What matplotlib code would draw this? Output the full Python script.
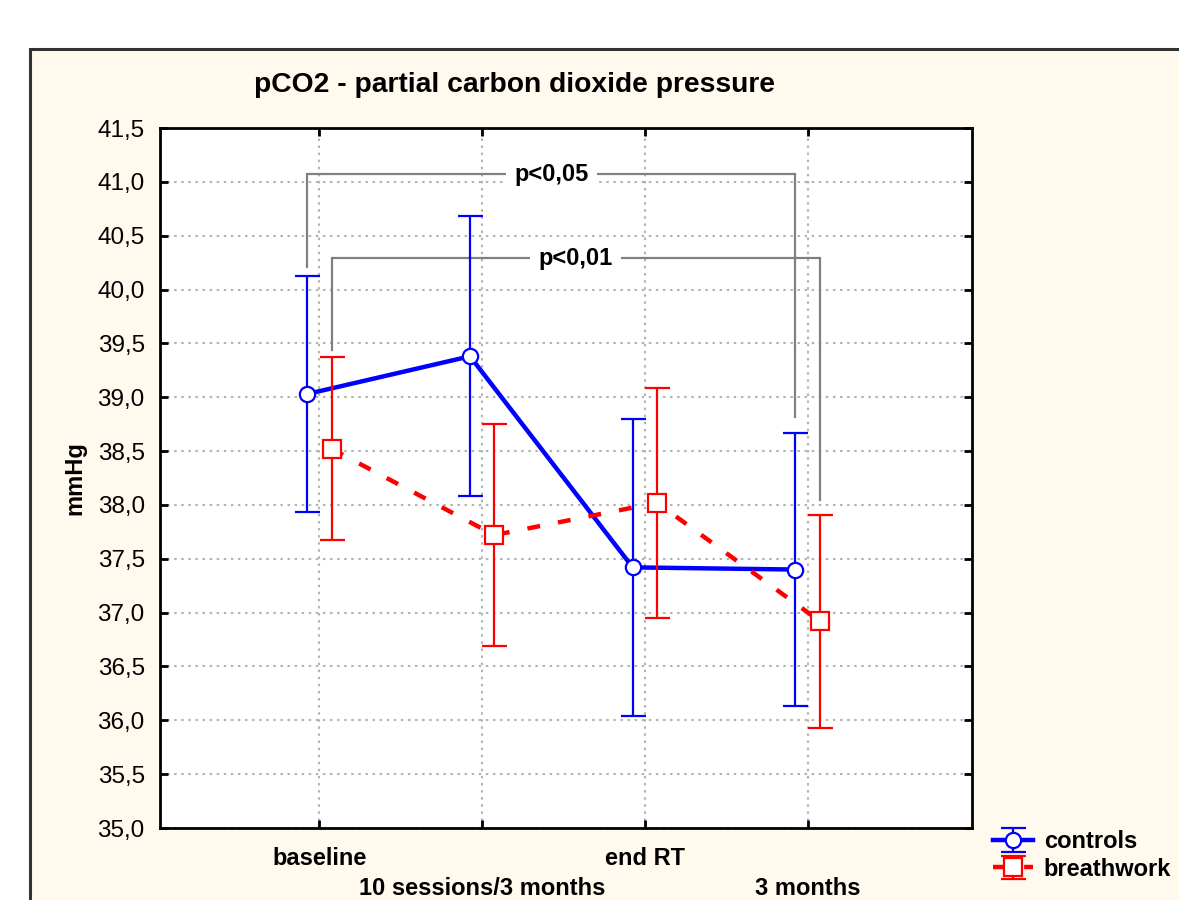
import matplotlib
matplotlib.use("Agg")
import matplotlib.pyplot as plt
from matplotlib.patches import Rectangle

# Group means and error-bar half widths (mmHg) at each time point
timepoints = ["baseline", "10 sessions/3 months", "end RT", "3 months"]
controls_mean = [39.03, 39.38, 37.42, 37.40]
controls_err = [1.10, 1.30, 1.38, 1.27]
breath_mean = [38.52, 37.72, 38.02, 36.92]
breath_err = [0.85, 1.03, 1.07, 0.99]

# Significance brackets: label, left index, left drop, right index, right drop, bar level, group
brackets = [
    ("p<0,05", 0, 40.21, 3, 38.82, 41.07, "controls"),
    ("p<0,01", 0, 39.44, 3, 38.05, 40.29, "breath"),
]

C_BLUE = "#0000FF"
C_RED = "#FF0000"
C_GRID = "#B4B4B4"
C_BRACKET = "#808080"
C_PANEL = "#FFF9EE"

plt.rcParams["font.family"] = ["Liberation Sans", "DejaVu Sans"]

fig = plt.figure(figsize=(11.79, 9.0), dpi=100)
fig.patch.set_facecolor("white")

# cream panel behind the chart
panel = Rectangle((30 / 1179, -0.02), 1.2, 1 - 49 / 900 + 0.02,
                  transform=fig.transFigure, facecolor=C_PANEL,
                  edgecolor="#333333", linewidth=2.2, zorder=-10)
fig.patches.append(panel)

ax = fig.add_axes([160 / 1179, 72 / 900, 812 / 1179, 700 / 900])
ax.set_facecolor("white")

off = 0.075
x = list(range(1, len(timepoints) + 1))
xc = [v - off for v in x]
xb = [v + off for v in x]

ax.errorbar(xc, controls_mean, yerr=controls_err, color=C_BLUE, lw=3.2,
            elinewidth=1.6, capsize=9, capthick=1.6, marker="o", ms=11,
            mfc="white", mec=C_BLUE, mew=1.6, label="controls", zorder=3)
ax.errorbar(xb, breath_mean, yerr=breath_err, color=C_RED, lw=3.2,
            ls=(0, (2.9, 4.1)), elinewidth=1.6, capsize=9, capthick=1.6,
            marker="s", ms=13, mfc="white", mec=C_RED, mew=1.6,
            label="breathwork", zorder=4)

# significance brackets
for label, i0, y0, i1, y1, ybar, grp in brackets:
    xs = xc if grp == "controls" else xb
    xl, xr = xs[i0], xs[i1]
    ax.plot([xl, xl, xr, xr], [y0, ybar, ybar, y1], color=C_BRACKET,
            lw=1.6, zorder=2, solid_joinstyle="miter")
    ax.text((xl + xr) / 2, ybar, label, ha="center", va="center",
            fontsize=17, fontweight="bold",
            bbox=dict(facecolor="white", edgecolor="none", pad=6), zorder=2.5)

ax.set_xlim(0.02, 5.01)
ax.set_ylim(35.0, 41.5)
yt = [35.0 + 0.5 * k for k in range(14)]
ax.set_yticks(yt)
ax.set_yticklabels([f"{v:.1f}".replace(".", ",") for v in yt], fontsize=17.5)
ax.set_xticks(x)
ax.set_xticklabels([t if k % 2 == 0 else "\n" + t
                    for k, t in enumerate(timepoints)],
                   fontsize=17, fontweight="bold", linespacing=1.36)

ax.tick_params(axis="y", direction="in", length=6, width=2,
               left=True, right=True, pad=11)
ax.tick_params(axis="x", direction="in", length=6, width=2,
               bottom=True, top=True, pad=14)
ax.grid(True, color=C_GRID, ls=(0, (1.2, 2.2)), lw=1.5)
ax.set_axisbelow(True)
for sp in ax.spines.values():
    sp.set_linewidth(2)
    sp.set_color("black")

ax.set_ylabel("mmHg", fontsize=17, fontweight="bold", labelpad=8)

fig.text(515 / 1179, 1 - 85 / 900, "pCO2 - partial carbon dioxide pressure",
         ha="center", va="center", fontsize=20.3, fontweight="bold")

leg = ax.legend(loc="upper left", bbox_to_anchor=(993 / 1179, 1 - 830 / 900),
                bbox_transform=fig.transFigure, frameon=False,
                prop=dict(weight="bold", size=17), handlelength=1.7,
                handletextpad=0.45, labelspacing=0.2, borderpad=0,
                borderaxespad=0)

fig.savefig("out.png", dpi=100, facecolor=fig.get_facecolor())
